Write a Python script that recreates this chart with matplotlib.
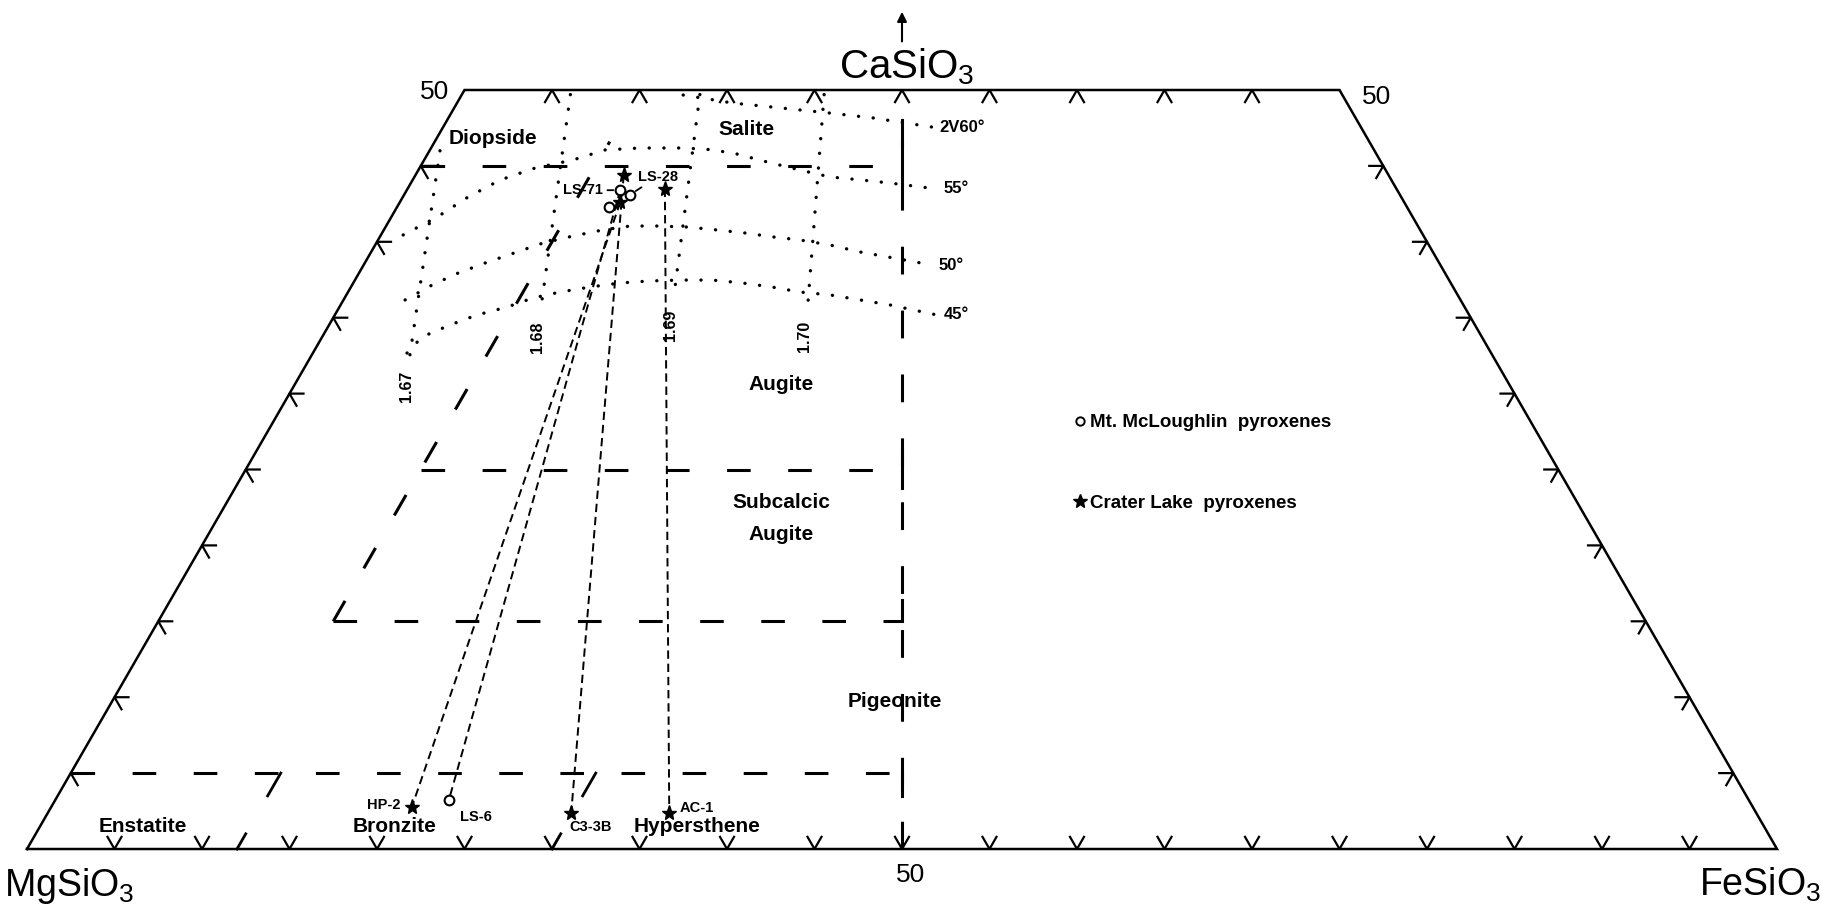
import numpy as np
import matplotlib
matplotlib.use("Agg")
import matplotlib.pyplot as plt
from matplotlib.lines import Line2D

plt.rcParams["lines.scale_dashes"] = False
plt.rcParams["font.family"] = ["Liberation Sans", "DejaVu Sans"]
plt.rcParams["mathtext.fontset"] = "custom"
plt.rcParams["mathtext.rm"] = "Liberation Sans"
plt.rcParams["mathtext.it"] = "Liberation Sans:italic"
plt.rcParams["mathtext.bf"] = "Liberation Sans:bold"

# ---------------- compositions in mol % FeSiO3 (Fs) and CaSiO3 (Wo) ----------------
# Mt. McLoughlin pyroxenes (open circles)
mcl_labels = ["LS-71", "LS-28", "", "LS-6"]
mcl_fs = [12.2, 12.9, 12.1, 22.5]
mcl_wo = [43.4, 43.1, 42.3, 3.2]
# Crater Lake pyroxenes (stars)
cl_labels = ["", "", "", "HP-2", "C3-3B", "AC-1"]
cl_fs = [11.9, 14.7, 12.6, 20.6, 29.9, 35.5]
cl_wo = [44.4, 43.5, 42.6, 2.8, 2.4, 2.4]
# coexisting clinopyroxene / orthopyroxene pairs (index pairs)
mcl_pairs = [(0, 3)]
cl_pairs = [(2, 3), (0, 4), (1, 5)]

# refractive index (beta) isolines
beta_labels = ["1.67", "1.68", "1.69", "1.70"]
beta_fs_top = [0.6, 6.2, 13.6, 20.7]
beta_wo_top = [46.0, 49.7, 49.7, 49.7]
beta_fs_bot = [5.7, 11.6, 18.8, 26.8]
beta_wo_bot = [32.3, 35.5, 36.3, 35.6]

# optic angle (2V) isolines
v60_fs = [12.66, 15.77, 18.74, 21.65, 24.26, 27.93]
v60_wo = [49.67, 49.14, 48.81, 48.48, 48.16, 47.56]
v55_fs = [1.27, 2.62, 3.73, 5.0, 6.6, 8.5, 10.0, 11.94, 14.22, 15.69, 17.42,
          19.66, 21.8, 23.76, 25.68, 27.38, 30.26]
v55_wo = [40.45, 41.63, 42.95, 44.07, 44.86, 45.39, 46.05, 46.18, 46.18, 46.11,
          45.85, 45.26, 44.73, 44.27, 44.07, 43.87, 43.48]
v50_fs = [3.52, 4.57, 5.66, 7.0, 8.34, 9.53, 11.01, 12.52, 13.94, 15.54, 17.29,
          19.04, 20.74, 22.47, 24.11, 25.99, 27.94, 29.7, 32.48]
v50_wo = [36.17, 37.15, 37.94, 38.67, 39.33, 39.92, 40.38, 40.78, 41.04, 41.04,
          40.97, 40.78, 40.58, 40.32, 40.12, 39.79, 39.33, 39.0, 38.47]
v45_fs = [5.38, 5.7, 6.91, 8.12, 9.58, 10.76, 12.12, 13.66, 15.25, 16.89, 18.57,
          20.4, 22.22, 24.06, 25.83, 27.64, 29.52, 31.39, 34.41]
v45_wo = [32.67, 33.73, 34.52, 35.18, 35.7, 36.3, 36.69, 37.02, 37.29, 37.42,
          37.48, 37.48, 37.29, 37.02, 36.69, 36.5, 36.17, 35.84, 35.18]
v_curves = [(v60_fs, v60_wo, "2V60°"), (v55_fs, v55_wo, "55°"),
            (v50_fs, v50_wo, "50°"), (v45_fs, v45_wo, "45°")]

# field boundaries
wo_full_levels = [45, 5]       # run from the En-Wo side to the En = Fs line
wo_part_levels = [25, 15]      # run from Fs = 10 to the En = Fs line
slant_fs, slant_wo = 10, (15, 46.6)
band_fs = [12, 30]             # short dividers in the low-Ca band


def proj(fs, wo):
    fs = np.asarray(fs, float)
    wo = np.asarray(wo, float)
    return fs + wo / 2.0, wo


fig = plt.figure(figsize=(18.22, 9.10), dpi=100)
ax = fig.add_axes([0, 0, 1, 1])
ax.set_xlim(-1.543, 102.571)
ax.set_ylim(-4.018, 55.929)
ax.axis("off")

K = "black"

# outline of the quadrilateral
bx, by = proj([0, 100, 50, 0, 0], [0, 0, 50, 50, 0])
ax.plot(bx, by, color=K, lw=1.8, solid_joinstyle="miter")

# tick marks along the sides
T = 0.8
tk = dict(color=K, lw=1.6)
for f in range(5, 100, 5):
    x, y = proj(f, 0)
    ax.plot([x - T / 2, x, x + T / 2], [y + T, y, y + T], **tk)
for f in range(5, 50, 5):
    x, y = proj(f, 50)
    ax.plot([x - T / 2, x, x + T / 2], [y - T, y, y - T], **tk)
for w in range(5, 50, 5):
    x, y = proj(0, w)
    ax.plot([x + T, x, x + T / 2], [y, y, y - T], **tk)
    x, y = proj(100 - w, w)
    ax.plot([x - T, x, x - T / 2], [y, y, y - T], **tk)

# field boundaries (long dashes)
bd = dict(color=K, lw=2.2, dashes=(17, 27), dash_capstyle="butt")
for w in wo_full_levels:
    x, y = proj([0, 50 - w / 2], [w, w])
    ax.plot(x, y, **bd)
for w in wo_part_levels:
    x, y = proj([slant_fs, 50 - w / 2], [w, w])
    ax.plot(x, y, **bd)
x, y = proj([slant_fs, slant_fs], list(slant_wo))
ax.plot(x, y, **bd)
x, y = proj([50, 25], [0, 50])
ax.plot(x, y, color=K, lw=2.2, dashes=(20, 26))
for w, lo, hi in [(45, -1.2, 1.5), (25, -1.2, 1.3), (15, 0, 1.4), (5, -1.5, 0)]:
    ax.plot([50, 50], [w + lo, w + hi], color=K, lw=2.2)
for f in band_fs:
    x, y = proj([f, f, np.nan, f, f], [0, 1.0, np.nan, 3.5, 5])
    ax.plot(x, y, color=K, lw=2.0)

# dotted optical isolines
dot = dict(color=K, lw=2.4, dashes=(0.1, 10.5), dash_capstyle="round")
for lab, ft, wt, fb, wb in zip(beta_labels, beta_fs_top, beta_wo_top,
                               beta_fs_bot, beta_wo_bot):
    x, y = proj([ft, fb], [wt, wb])
    ax.plot(x, y, **dot)
    ax.annotate(lab, (x[1], y[1]), xytext=(-3, -12), textcoords="offset pixels",
                rotation=90, ha="center", va="top", fontsize=11.5,
                fontweight="bold")
for fs, wo, lab in v_curves:
    x, y = proj(fs, wo)
    ax.plot(x, y, **dot)
    ax.annotate(lab, (x[-1], y[-1]), xytext=(7, 0), textcoords="offset pixels",
                ha="left", va="center", fontsize=12, fontweight="bold")

# tie lines between coexisting pyroxenes
tie = dict(color=K, lw=1.4, dashes=(6, 3.5))
for a, b in mcl_pairs:
    x, y = proj([mcl_fs[a], mcl_fs[b]], [mcl_wo[a], mcl_wo[b]])
    ax.plot(x, y, **tie)
for a, b in cl_pairs:
    x, y = proj([cl_fs[a], cl_fs[b]], [cl_wo[a], cl_wo[b]])
    ax.plot(x, y, **tie)

# analysed pyroxenes
cx, cy = proj(mcl_fs, mcl_wo)
ax.plot(cx, cy, ls="none", marker="o", ms=7, mfc="white", mec=K, mew=1.5,
        zorder=5)
sx, sy = proj(cl_fs, cl_wo)
ax.plot(sx, sy, ls="none", marker="*", ms=11, color=K, zorder=5)

lab_kw = dict(textcoords="offset pixels", fontsize=10.5, fontweight="bold")
label_offsets = {
    "LS-71": ((-17, 0), "right", "center", True),
    "LS-28": ((8, 18), "left", "center", True),
    "LS-6": ((11, -17), "left", "center", False),
    "HP-2": ((-12, 2), "right", "center", False),
    "C3-3B": ((-2, -14), "left", "center", False),
    "AC-1": ((10, 5), "left", "center", False),
}
for names, xs, ys in [(mcl_labels, cx, cy), (cl_labels, sx, sy)]:
    for name, x, y in zip(names, xs, ys):
        if not name:
            continue
        off, ha, va, lead = label_offsets[name]
        ap = dict(arrowstyle="-", color=K, lw=1.3, shrinkA=1, shrinkB=5) if lead else None
        ax.annotate(name, (x, y), xytext=off, ha=ha, va=va, arrowprops=ap,
                    **lab_kw)

# mineral field names
fields = [("Diopside", 26.6, 46.8), ("Salite", 41.1, 47.4),
          ("Augite", 43.1, 30.6), ("Subcalcic", 43.1, 22.8),
          ("Augite", 43.1, 20.7), ("Pigeonite", 49.6, 9.75),
          ("Enstatite", 6.6, 1.45), ("Bronzite", 21.0, 1.45),
          ("Hypersthene", 38.3, 1.5)]
for name, x, y in fields:
    ax.text(x, y, name, ha="center", va="center", fontsize=15,
            fontweight="bold")

# end-member and scale labels
ax.text(50.25, 50.79, "CaSiO$_3$", ha="center", va="baseline", fontsize=29)
ax.text(-1.3, -3.1, "MgSiO$_3$", ha="left", va="baseline", fontsize=27)
ax.text(102.5, -3.1, "FeSiO$_3$", ha="right", va="baseline", fontsize=27)
ax.annotate("", xy=(50, 55.15), xytext=(50, 53.2),
            arrowprops=dict(arrowstyle="-|>", color=K, lw=1.5,
                            mutation_scale=14, shrinkA=0, shrinkB=0))
ax.text(24.1, 49.87, "50", ha="right", va="center", fontsize=19)
ax.text(76.3, 49.55, "50", ha="left", va="center", fontsize=19)
ax.text(50.5, -1.7, "50", ha="center", va="center", fontsize=19)

# key
handles = [Line2D([], [], ls="none", marker="o", ms=6, mfc="white", mec=K,
                  mew=1.4),
           Line2D([], [], ls="none", marker="*", ms=10, color=K)]
ax.legend(handles, ["Mt. McLoughlin  pyroxenes", "Crater Lake  pyroxenes"],
          loc="upper left", bbox_to_anchor=(1074 / 1822, 1 - 414 / 910),
          frameon=False, handlelength=0.6, handletextpad=0.25,
          labelspacing=3.4, borderpad=0, borderaxespad=0,
          prop=dict(size=13.5, weight="bold"))

fig.savefig("out.png", dpi=100, facecolor="white")
